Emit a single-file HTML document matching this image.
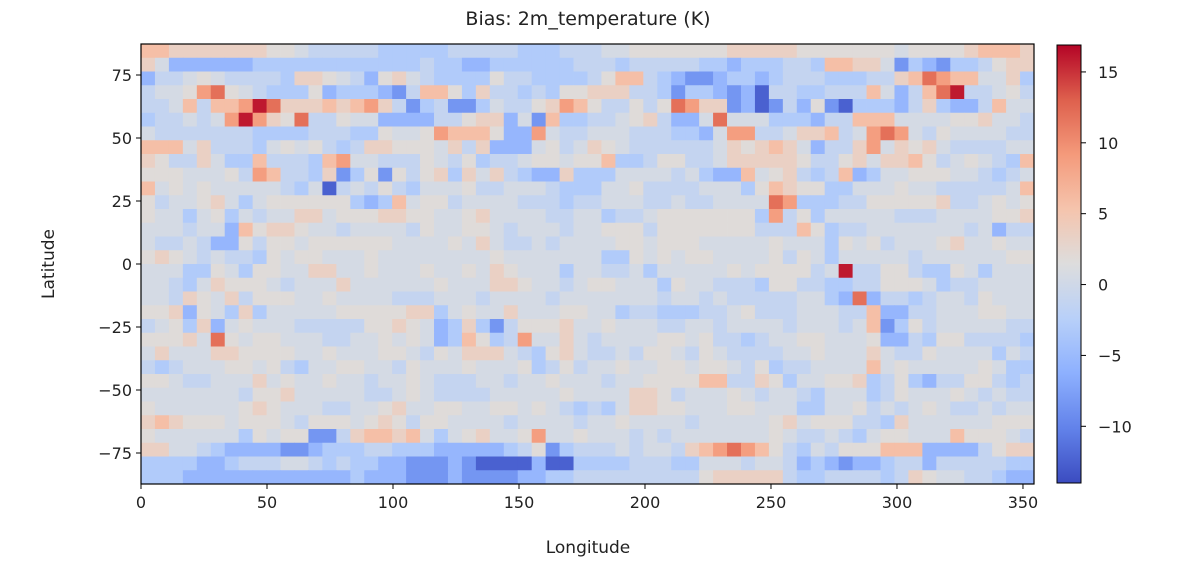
<!DOCTYPE html>
<html><head><meta charset="utf-8"><style>
html,body{margin:0;padding:0;background:#fff;}
svg text{font-family:"DejaVu Sans","Liberation Sans",sans-serif;fill:#222;}
</style></head><body>
<svg id="chart" width="1178" height="568" xmlns="http://www.w3.org/2000/svg">
<text x="588" y="25" font-size="19" text-anchor="middle">Bias: 2m_temperature (K)</text>
<g id="cells"></g>
<rect x="141" y="44" width="893" height="440" fill="none" stroke="#000" stroke-width="1.2"/>
<g id="xaxis"></g>
<g id="yaxis"></g>
<text x="588" y="553" font-size="17" text-anchor="middle">Longitude</text>
<text x="54" y="264" font-size="17" text-anchor="middle" transform="rotate(-90 54 264)">Latitude</text>
<defs><linearGradient id="cbgrad" x1="0" y1="1" x2="0" y2="0"></linearGradient></defs>
<rect x="1057" y="45" width="24" height="438" fill="url(#cbgrad)" stroke="#000" stroke-width="1"/>
<g id="cbaxis"></g>
</svg>
<script>
const rowCodes = [
"iihhhhhhhggfeeeeedddddeeeeedddeeeffggggggghhhhhgggggggfgggghiiih",
"hfccccccddddddddddddeddccddddddeeedeeeeeddcdddeediihhfbdcbddeghhg",
"ceefgfeeeedhhgfecghfeddddgeeddddegiiedcbbcddcdeeedddeehikjiiffhd",
"effgjkgfedddgcdddcbeiigdheededgghhheedbddcbcaeeddeeeifceikleefge",
"eefieiijlkhhhihijhebdebbdfeeghjigeegegkjhhbcabecgbadddcehdcceiff",
"deefefjljhgkeegffcccceeghhcfbiddeefgheccfkfffdddceeiiiffffgghffe",
"feeeeeeeddddeeeddgffgjiiigccjfeefffeeeddcfjjeefhhiefjkjfegffffee",
"iiifheeedfgfgedehhgggfhehcccfgefhgfeeeeeefhghihfceehjfhghfeeeeff",
"hgeehfddieeedijffeeegfegdeefggfggiddeggeefhhhhhgeeghfhhigefgfedi",
"gggfffgejieedhbdgbgeghdhfhedcchdddffffefdccifghedeicdffgggffedef",
"ifgfgfffffedfaefegedfffgeefffedddffgeeeefffdgihggddfffgffeeeeefi",
"geffghfdfggggggdcdifggeffffeeedeefffeefeeffffkjdddeegggggheefgfg",
"gffdfgdfeffhhfggghhggffghffffeeffdeefgggggggdjegdfffffeeeffffggh",
"fffeffcighhgffeffffegffggfefffeffgggegggggggeeeigdeefffffffefcee",
"feefeccgeggfggggggffffgfhfeefeffffggfgggfffffgfffdgfgefffghffgff",
"ghgfefeedgfggfffgffffffffgfffffffddgfgfggffffgegfdfffffeffffffgg",
"fffddgfdggffhhffgfffgffgfhgfffdffeefdfffffgfggggefleeggeddgfdfff",
"ffedfhgggfefffhffffffgfffhhgffefggfffdgffeeedggeeddeegggfdeeffff",
"ffehgfhegggffgffffeeefffeffffefffffffeffefeeeeeffdckceedeffegfff",
"gghcgfdhdfffffggggghhdfgffhfffggffdeedddeefgeeefffeeicceefffggff",
"efgdhcfgfffeeeeegghgfcdhdbeggghffgfffeeffeffffefffefibdgefffffee",
"ggghfkgfggfffeeffgfgfcdigdejffhfeffffggfgeedeffggfffgccedggeeeed",
"fhfffhhggggffgfffggfegfhhhfedghfeefeggfegfeeeeffgfffhfeegffffdfe",
"edefffggfgedffggffegfffgfffgdegeffgffggfggfegdeeffffifgfffffgfdd",
"ggfeefffhfgffgffeffgfeeeffeffgfffeffggggiieehgdffgghdegdceeggede",
"fffffffegghfffffeefgfeeeefffffgffffhhgefffgfeffedfffdegfffgfefee",
"gffffffghgfffeeffghffggffggfgfededfhhggfffggfffddffgefefgfeefeff",
"hihgggfgggfegggfghgeggffffeffffeffgffffefffffghfgggeedhffffffgggg",
"gffffffdgfggbbehiihifdfghffgjffgfffefefffffffgfeefedfggfffigggfe",
"hhffedccccbbcdddeedddcccccdegbdeeefeffehijkjigedfegggiiicccceghh",
"ddddccdeeeffededdccbbbcbaaaacaaddddeeeddfffeffecdcbccdeeceeeeedd",
"dddccccccccccccdcccbbbcbbbbccddeeeeeeeeeghhhhheddeeeedehgffeedcc"
];
const levelCodes = ["a","b","c","d","e","f","g","h","i","j","k","l"];
const levelValues = [-12.5,-8.5,-5.5,-3,-1.2,0.5,1.8,3.5,5.8,8.8,12,16];
const xTicks = [0,50,100,150,200,250,300,350];
const yTicks = [75,50,25,0,-25,-50,-75];
const cbTicks = [15,10,5,0,-5,-10];
const vmin = -14.0, vmax = 16.9;

const NS = "http://www.w3.org/2000/svg";
const PL = 141, PR = 1034, PT = 44, PB = 484;
const lonMax = 354.375, latMax = 87.3;
const xScale = v => PL + v / lonMax * (PR - PL);
const yScale = v => PT + (latMax - v) / (2 * latMax) * (PB - PT);
const cbScale = v => 483 - (v - vmin) / (vmax - vmin) * 438;
const stops = [[59,76,192],[98,130,234],[141,176,254],[184,208,249],[221,221,221],[245,196,173],[244,154,123],[222,96,77],[180,4,38]];
function cmap(t){t=Math.max(0,Math.min(1,t));const p=t*8,i=Math.min(7,Math.floor(p)),f=p-i;
 const c=stops[i].map((s,k)=>Math.round(s+(stops[i+1][k]-s)*f));return `rgb(${c[0]},${c[1]},${c[2]})`;}
function mk(tag,attrs,parent){const e=document.createElementNS(NS,tag);for(const k in attrs)e.setAttribute(k,attrs[k]);parent.appendChild(e);return e;}

const nRows = rowCodes.length, nCols = 64;
const lonStep = lonMax / nCols, latStep = 2 * latMax / nRows;
const cells = document.getElementById("cells");
rowCodes.forEach((row, r) => {
  for (let c = 0; c < nCols; c++) {
    const ch = row[c] || "f";
    const v = levelValues[levelCodes.indexOf(ch)];
    const x0 = xScale(c * lonStep), x1 = xScale((c + 1) * lonStep);
    const lat0 = latMax - r * latStep, lat1 = latMax - (r + 1) * latStep;
    const y0 = yScale(lat0), y1 = yScale(lat1);
    const el = mk("rect",{x:x0.toFixed(2),y:y0.toFixed(2),width:(x1-x0+0.4).toFixed(2),height:(y1-y0+0.4).toFixed(2),fill:cmap((v-vmin)/(vmax-vmin))},cells);
    
    
  }
});

const xa = document.getElementById("xaxis");
xTicks.forEach(t => {
  const x = xScale(t);
  const l = mk("line",{x1:x,x2:x,y1:PB,y2:PB+5,stroke:"#000"},xa);
  
  
  const tx = mk("text",{x:x,y:PB+24,"font-size":"16","text-anchor":"middle"},xa);
  tx.textContent = t;
  
  
});
const ya = document.getElementById("yaxis");
yTicks.forEach(t => {
  const y = yScale(t);
  const l = mk("line",{x1:PL-5,x2:PL,y1:y,y2:y,stroke:"#000"},ya);
  
  
  const tx = mk("text",{x:PL-9,y:y+6,"font-size":"16","text-anchor":"end"},ya);
  tx.textContent = t < 0 ? "\u2212" + (-t) : t;
  
  
});
const grad = document.getElementById("cbgrad");
for (let i = 0; i <= 8; i++) {
  mk("stop",{offset:(i/8),"stop-color":cmap(i/8)},grad);
}
const cba = document.getElementById("cbaxis");
cbTicks.forEach(t => {
  const y = cbScale(t);
  const l = mk("line",{x1:1081,x2:1086,y1:y,y2:y,stroke:"#000"},cba);
  
  
  const tx = mk("text",{x:1098,y:y+6,"font-size":"16","text-anchor":"start"},cba);
  tx.textContent = t < 0 ? "\u2212" + (-t) : t;
  
  
});
</script>
</body></html>
